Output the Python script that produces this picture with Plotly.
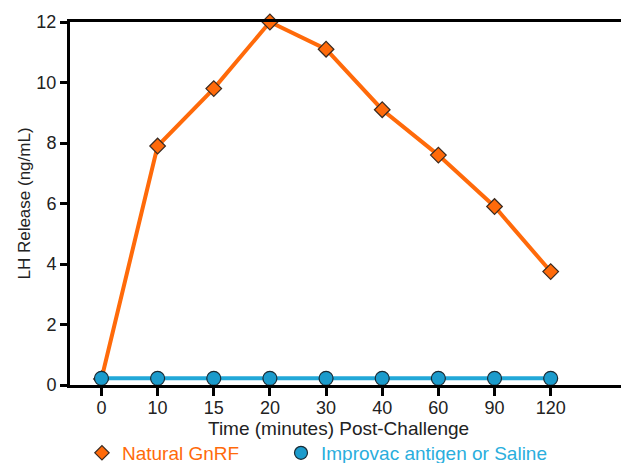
import plotly.graph_objects as go

time_labels = ["0", "10", "15", "20", "30", "40", "60", "90", "120"]
gnrf_values = [0.2, 7.9, 9.8, 12.0, 11.1, 9.1, 7.6, 5.9, 3.75]
improvac_values = [0.22, 0.22, 0.22, 0.22, 0.22, 0.22, 0.22, 0.22, 0.22]
x_title = "Time (minutes) Post-Challenge"
y_title = "LH Release (ng/mL)"

orange = "#FF6A0A"
blue = "#22A8D8"
blue_marker = dict(symbol="circle", size=14, color="#1B9BCC", line=dict(color="#1a2a33", width=1.2))
orange_marker = dict(symbol="diamond", size=12, color=orange, line=dict(color="#3a2a20", width=1.2))

fig = go.Figure()
fig.add_trace(go.Scatter(
    x=time_labels, y=gnrf_values, mode="lines+markers", showlegend=False,
    line=dict(color=orange, width=4), marker=orange_marker, cliponaxis=False,
))
fig.add_trace(go.Scatter(
    x=time_labels, y=improvac_values, mode="lines+markers", showlegend=False,
    line=dict(color=blue, width=4), marker=blue_marker, cliponaxis=False,
))
# legend entries (marker only)
fig.add_trace(go.Scatter(
    x=[None], y=[None], mode="markers", legend="legend",
    name="<span style='color:#FF6A0A'>Natural GnRF</span>",
    marker=dict(symbol="diamond", size=11, color=orange, line=dict(color="#3a2a20", width=1.2)),
))
fig.add_trace(go.Scatter(
    x=[None], y=[None], mode="markers", legend="legend2",
    name="<span style='color:#2AAEDD'>Improvac antigen or Saline</span>",
    marker=dict(symbol="circle", size=13, color="#1B9BCC", line=dict(color="#1a2a33", width=1.2)),
))

legend_common = dict(orientation="h", xref="container", yref="container",
                     xanchor="left", yanchor="middle", y=0.022,
                     font=dict(size=19), bgcolor="rgba(0,0,0,0)")

fig.update_layout(
    width=621, height=455,
    margin=dict(l=62, r=7, t=14, b=78, autoexpand=False),
    paper_bgcolor="white", plot_bgcolor="white",
    font=dict(family="Liberation Sans, Arial, sans-serif", color="#222222", size=18),
    showlegend=True,
    legend=dict(x=0.1191, **legend_common),
    legend2=dict(x=0.4396, **legend_common),
    xaxis=dict(
        type="category", range=[-0.56, 9.27],
        showline=True, linecolor="black", linewidth=3, mirror=True,
        ticks="outside", ticklen=8, tickwidth=2.5, tickcolor="black",
        ticklabelstandoff=-4,
        showgrid=False, zeroline=False,
        tickfont=dict(size=18),
    ),
    yaxis=dict(
        range=[0, 12], tickvals=[0, 2, 4, 6, 8, 10, 12],
        showline=True, linecolor="black", linewidth=3, mirror=True,
        ticks="outside", ticklen=7, tickwidth=2.5, tickcolor="black",
        showgrid=False, zeroline=False,
        tickfont=dict(size=18),
        title=dict(text=y_title, font=dict(size=17), standoff=2),
    ),
    annotations=[dict(
        text=x_title, xref="paper", yref="paper", x=0.487, y=-0.1185,
        xanchor="center", yanchor="middle", showarrow=False,
        font=dict(size=19, color="#222222"),
    )],
)

fig.write_html("out.html")
